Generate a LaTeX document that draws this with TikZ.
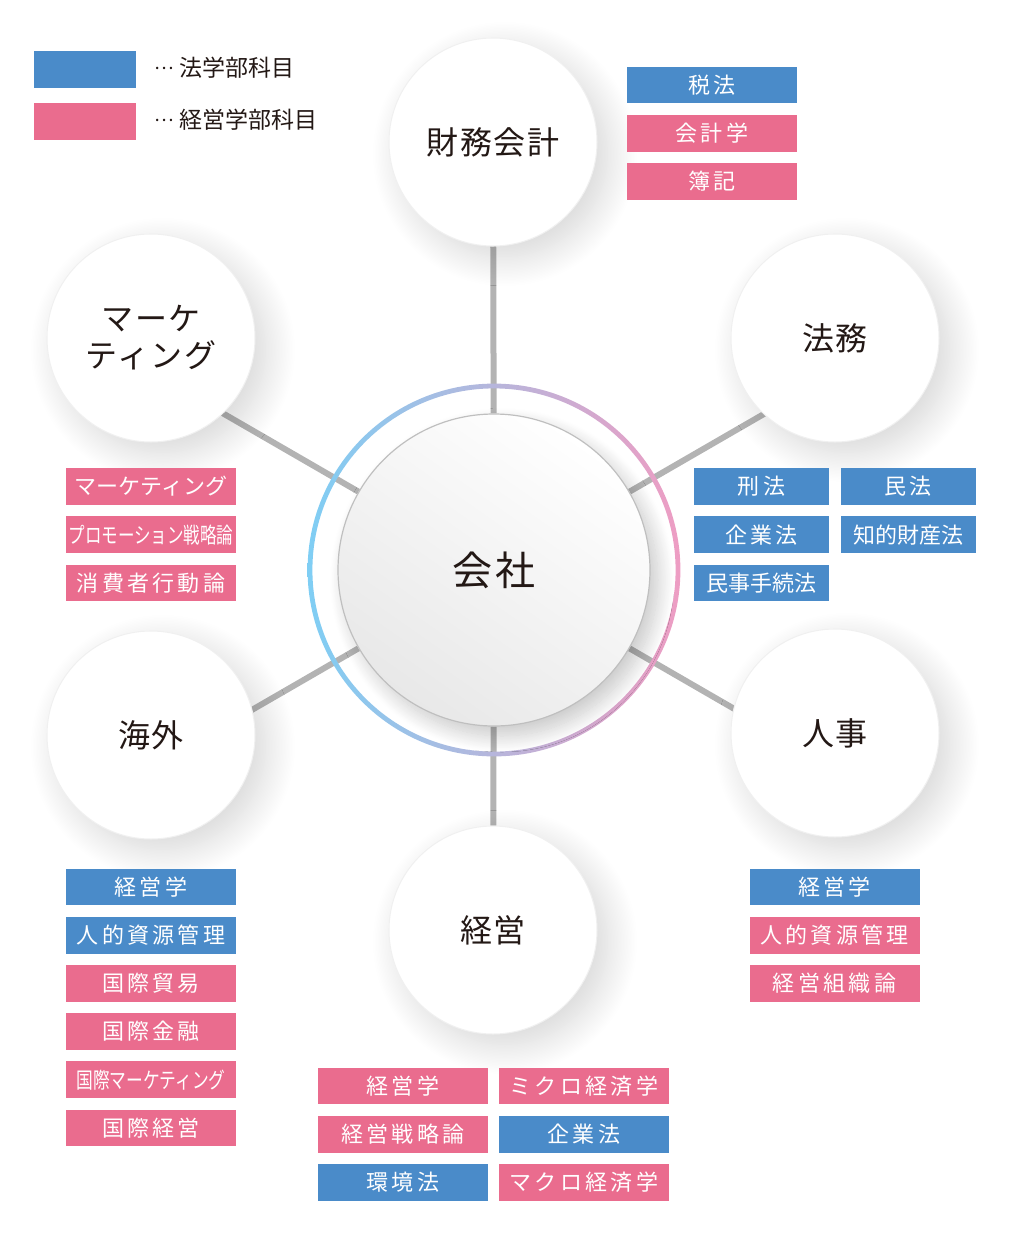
\documentclass[tikz,border=0pt]{standalone}
\usepackage{fontspec}
\usepackage{graphicx}
\usetikzlibrary{positioning,backgrounds,shadows.blur}
\setmainfont{Noto Sans CJK JP}
\newfontfamily\tagfont[LetterSpace=15]{Noto Sans CJK JP}
\newfontfamily\tightfont{Noto Sans CJK JP}
\newfontfamily\bubblefont[LetterSpace=6]{Noto Sans CJK JP}
\definecolor{hougaku}{HTML}{4A8BC9}
\definecolor{keiei}{HTML}{EA6C8E}
\definecolor{ringblue}{HTML}{7FCEF4}
\definecolor{ringpink}{HTML}{EE9DC3}
\definecolor{linkgray}{HTML}{B3B3B3}
\definecolor{ink}{HTML}{231815}
\newcommand{\squeeze}[2]{\scalebox{#1}[1]{#2}}
\newcommand{\middots}{\raisebox{0.3em}{\scalebox{0.8}{…}}}

\begin{document}
\begin{tikzpicture}[x=0.5pt, y=-0.5pt, node distance=5.3pt,
  bubble/.style={circle, fill=white, minimum size=104pt, inner sep=0pt, align=center, text=ink,
    draw=black!6, line width=0.5pt,
    font=\bubblefont\fontsize{16}{18.5}\selectfont,
    blur shadow={shadow xshift=6pt, shadow yshift=-6pt, shadow blur radius=14pt,
      shadow blur steps=20, shadow opacity=16}},
  hub/.style={circle, minimum size=156pt, inner sep=0pt, draw=black!25, line width=0.6pt, text=ink,
    top color=white, bottom color=black!9, shading angle=-35,
    font=\bubblefont\fontsize{20}{24}\selectfont,
    blur shadow={shadow xshift=4pt, shadow yshift=-5pt, shadow blur radius=8pt,
      shadow blur steps=24, shadow opacity=22}},
  tag/.style={minimum width=85pt, minimum height=18.4pt, inner sep=0pt, text=white,
    font=\tagfont\fontsize{11}{12}\selectfont},
  narrow/.style={minimum width=67.5pt},
  tight/.style={font=\tightfont\fontsize{11}{12}\selectfont},
  lawtag/.style={tag, fill=hougaku},
  biztag/.style={tag, fill=keiei},
  legendbox/.style={minimum width=51pt, minimum height=18.5pt, inner sep=0pt},
  legendtext/.style={inner sep=0pt, text=ink, font=\tightfont\fontsize{11.5}{12}\selectfont},
  link/.style={draw=linkgray, line width=3pt}]
\useasboundingbox (0,0) rectangle (1018,1248);

% legend
\node[legendbox, fill=hougaku] (leg-law) at (85,69.5) {};
\node[legendbox, fill=keiei, below=7pt of leg-law] (leg-biz) {};
\node[legendtext, right=9pt of leg-law, yshift=1pt] (leg-law-text) {\middots\ 法学部科目};
\node[legendtext, right=9pt of leg-biz, yshift=1pt] (leg-biz-text) {\middots\ 経営学部科目};

% hub and fields
\node[hub] (kaisha) at (494,570) {会社};
\node[bubble] (zaimu) at (493,142) {財務会計};
\node[bubble] (houmu) at (835,338) {法務};
\node[bubble] (marketing) at (151,338) {マーケ\\ティング};
\node[bubble] (kaigai) at (151,735) {海外};
\node[bubble] (jinji) at (835,733) {人事};
\node[bubble] (keieibubble) at (493,930) {経営};

\coordinate (houmu-end) at (840,370);
\coordinate (marketing-end) at (148,370);
\coordinate (kaigai-end) at (148,770);
\coordinate (jinji-end) at (840,770);

\begin{scope}[on background layer]
\draw[link] (kaisha) -- (zaimu);
\draw[link] (kaisha) -- (keieibubble);
\draw[link] (kaisha) -- (houmu-end);
\draw[link] (kaisha) -- (marketing-end);
\draw[link] (kaisha) -- (kaigai-end);
\draw[link] (kaisha) -- (jinji-end);
\shade[even odd rule, left color=ringblue, right color=ringpink]
  (kaisha.center) circle[radius=93.2pt] (kaisha.center) circle[radius=90.8pt];
\end{scope}

% 財務会計
\node[lawtag] (zeihou) at (712,85) {税法};
\node[biztag, below=of zeihou] (kaikeigaku) {会計学};
\node[biztag, below=of kaikeigaku] (boki) {簿記};

% 法務
\node[lawtag, narrow] (keihou) at (761.5,486.5) {刑法};
\node[lawtag, narrow, right=5.5pt of keihou] (minpou) {民法};
\node[lawtag, narrow, below=of keihou] (kigyouhou) {企業法};
\node[lawtag, narrow, tight, below=of minpou] (chizai) {知的財産法};
\node[lawtag, narrow, tight, below=of kigyouhou] (minso) {民事手続法};

% マーケティング
\node[biztag, tight] (mk-marketing) at (151,486.5) {マーケティング};
\node[biztag, tight, below=of mk-marketing] (mk-promotion) {\squeeze{0.75}{プロモーション戦略論}};
\node[biztag, below=of mk-promotion] (mk-shouhisha) {消費者行動論};

% 海外
\node[lawtag] (kg-keieigaku) at (151,887) {経営学};
\node[lawtag, below=of kg-keieigaku] (kg-jinteki) {人的資源管理};
\node[biztag, below=of kg-jinteki] (kg-boueki) {国際貿易};
\node[biztag, below=of kg-boueki] (kg-kinyuu) {国際金融};
\node[biztag, tight, below=of kg-kinyuu] (kg-marketing) {\squeeze{0.76}{国際マーケティング}};
\node[biztag, below=of kg-marketing] (kg-keiei) {国際経営};

% 人事
\node[lawtag] (jj-keieigaku) at (834.5,887) {経営学};
\node[biztag, below=of jj-keieigaku] (jj-jinteki) {人的資源管理};
\node[biztag, below=of jj-jinteki] (jj-soshiki) {経営組織論};

% 経営
\node[biztag] (ke-keieigaku) at (403,1086) {経営学};
\node[biztag, below=of ke-keieigaku] (ke-senryaku) {経営戦略論};
\node[lawtag, below=of ke-senryaku] (ke-kankyou) {環境法};
\node[biztag, right=5pt of ke-keieigaku] (ke-micro) {ミクロ経済学};
\node[lawtag, below=of ke-micro] (ke-kigyouhou) {企業法};
\node[biztag, below=of ke-kigyouhou] (ke-macro) {マクロ経済学};
\end{tikzpicture}
\end{document}
